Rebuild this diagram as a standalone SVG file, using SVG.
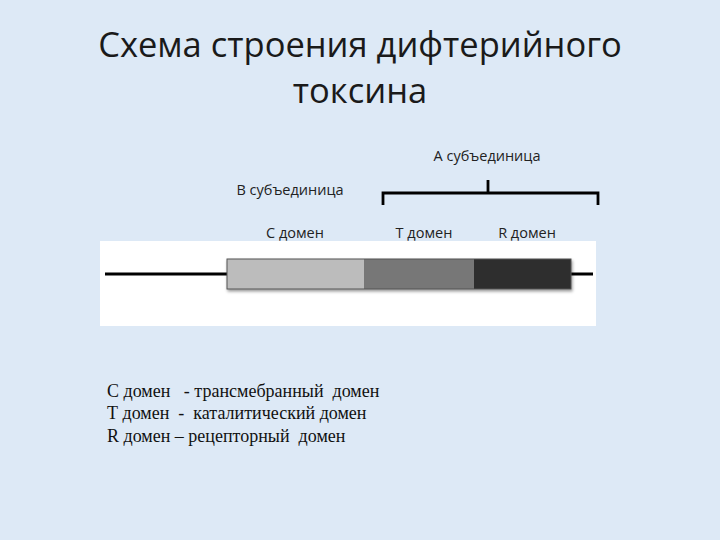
<svg xmlns="http://www.w3.org/2000/svg" width="720" height="540" viewBox="0 0 720 540">
<defs>
<style>
.t{font-family:"Open Sans","Liberation Sans",sans-serif;fill:#1a1a1a}
.lbl{font-family:"Open Sans","Liberation Sans",sans-serif;font-size:14.5px;fill:#222}
.leg{font-family:"Liberation Serif",serif;font-size:18px;fill:#111}
.br{fill:none;stroke:#000;stroke-width:2.8}
</style>
<filter id="sh" x="-5%" y="-20%" width="110%" height="150%"><feDropShadow dx="1" dy="2" stdDeviation="1.5" flood-opacity="0.4"/></filter>
</defs>
<rect width="720" height="540" fill="#dde9f6"/>
<g id="title">
<text class="t" x="360" y="57" font-size="34.5" text-anchor="middle">Схема строения дифтерийного</text>
<text class="t" x="360" y="103" font-size="34.5" text-anchor="middle">токсина</text>
</g>
<rect x="100" y="241" width="496" height="85" fill="#ffffff"/>
<g id="connectors">
<line x1="105" y1="274" x2="228" y2="274" stroke="#000" stroke-width="3"/>
<line x1="570" y1="274" x2="593" y2="274" stroke="#000" stroke-width="3"/>
<path class="br" d="M383,205 V193 H598 V205 M488,193 V180"/>
</g>
<g id="bar" filter="url(#sh)">
<rect x="227" y="259" width="137" height="30" fill="#bcbcbc"/>
<rect x="364" y="259" width="110" height="30" fill="#777777"/>
<rect x="474" y="259" width="97" height="30" fill="#2e2e2e"/>
<rect x="227" y="259" width="344" height="30" fill="none" stroke="#555" stroke-width="1"/>
</g>
<g id="labelA"><text class="lbl" x="487" y="161" text-anchor="middle">А субъединица</text></g>
<g id="labelB"><text class="lbl" x="290" y="195" text-anchor="middle">В субъединица</text></g>
<g id="labelC"><text class="lbl" x="295" y="238" text-anchor="middle">С домен</text></g>
<g id="labelT"><text class="lbl" x="424" y="238" text-anchor="middle">Т домен</text></g>
<g id="labelR"><text class="lbl" x="527" y="238" text-anchor="middle">R домен</text></g>
<g id="legend">
<text class="leg" x="107" y="397" xml:space="preserve">С домен   - трансмебранный  домен</text>
<text class="leg" x="107" y="419" xml:space="preserve">Т домен  -  каталитический домен</text>
<text class="leg" x="107" y="442" xml:space="preserve">R домен – рецепторный  домен</text>
</g>
</svg>
